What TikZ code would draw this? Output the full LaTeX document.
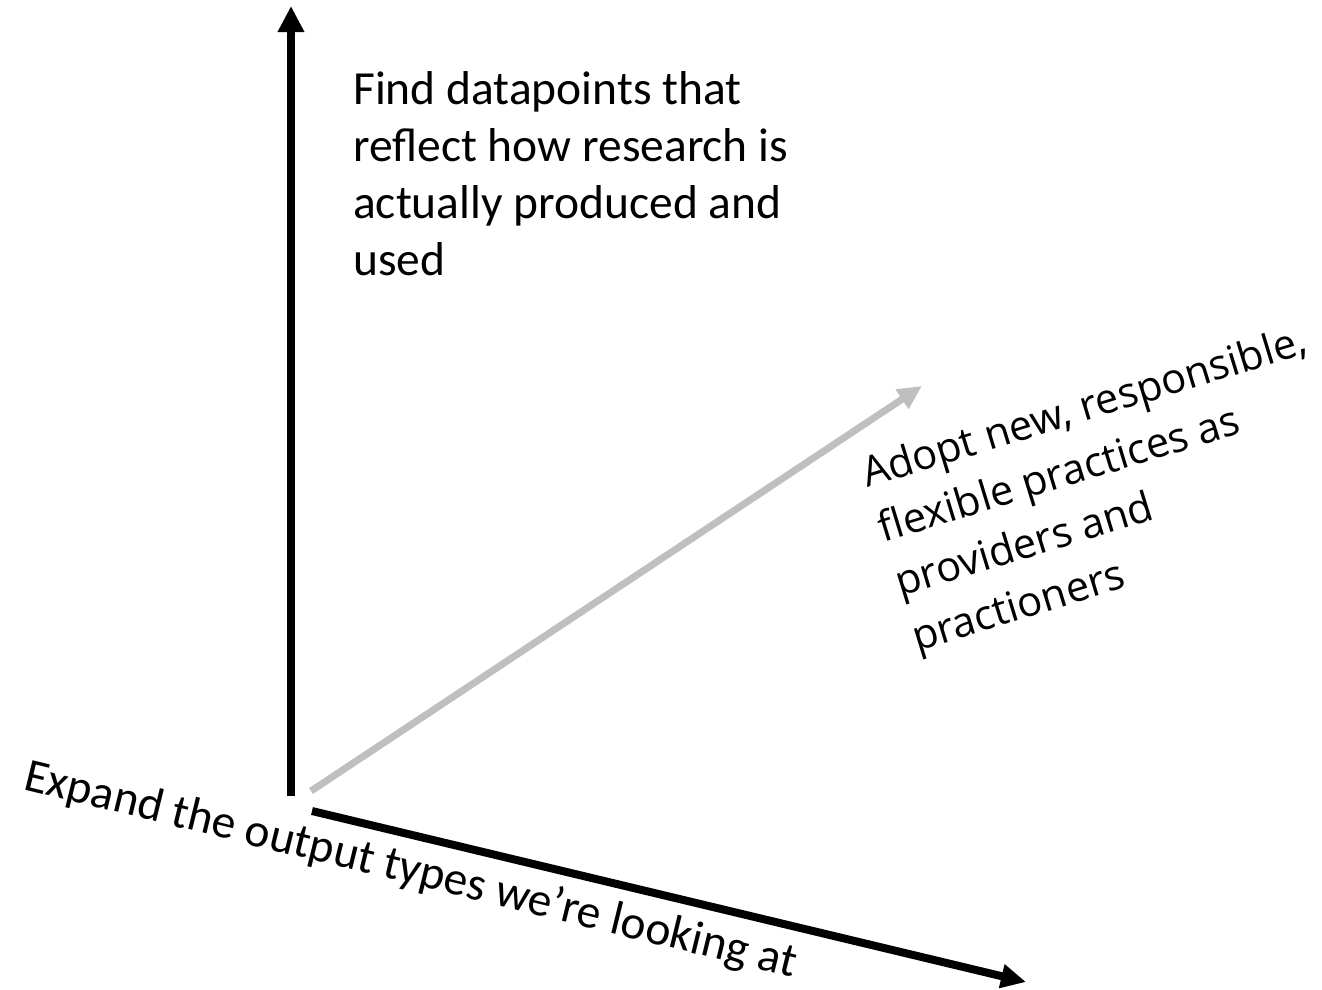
\documentclass[tikz,border=0pt]{standalone}
\usepackage{fontspec}
\setmainfont{Carlito}
\newfontfamily\opensans{Open Sans}
\usetikzlibrary{arrows.meta}
\definecolor{axisgray}{HTML}{BFBFBF}
\tikzset{
  axis/.style={line width=8.3pt, line cap=butt},
  lbl/.style={inner sep=0pt, align=left, text=black},
}
\begin{document}
\begin{tikzpicture}[x=1pt,y=-1pt]
\useasboundingbox (0,0) rectangle (1322,989);
\coordinate (vstart) at (291,796);
\coordinate (vtip) at (291,6);
\coordinate (gstart) at (311,791);
\coordinate (gtip) at (922,386);
\coordinate (hstart) at (312,811);
\coordinate (htip) at (1026,982);
\draw[axis, -{Triangle[width=25pt,length=26pt]}] (vstart) -- (vtip);
\draw[axis, line width=7pt, axisgray, -{Triangle[width=22pt,length=24pt]}] (gstart) -- (gtip);
\draw[axis, line width=8pt, -{Triangle[width=23pt,length=25pt]}] (hstart) -- (htip);
% base anchor = baseline of the last line
\node[lbl, anchor=base west, font=\fontsize{47.5}{57}\selectfont] (vlabel) at (353,275)
  {Find datapoints that\\reflect how research is\\actually produced and\\used};
\node[lbl, anchor=base west, rotate=17, font=\opensans\fontsize{41.5}{57}\selectfont] (glabel) at (917,651.5)
  {Adopt new, responsible,\\flexible practices as\\providers and\\practioners};
\node[lbl, anchor=base west, rotate=-13.75, font=\fontsize{47.5}{57}\selectfont] (hlabel) at (22,789)
  {Expand the output types we’re looking at};
\end{tikzpicture}
\end{document}
